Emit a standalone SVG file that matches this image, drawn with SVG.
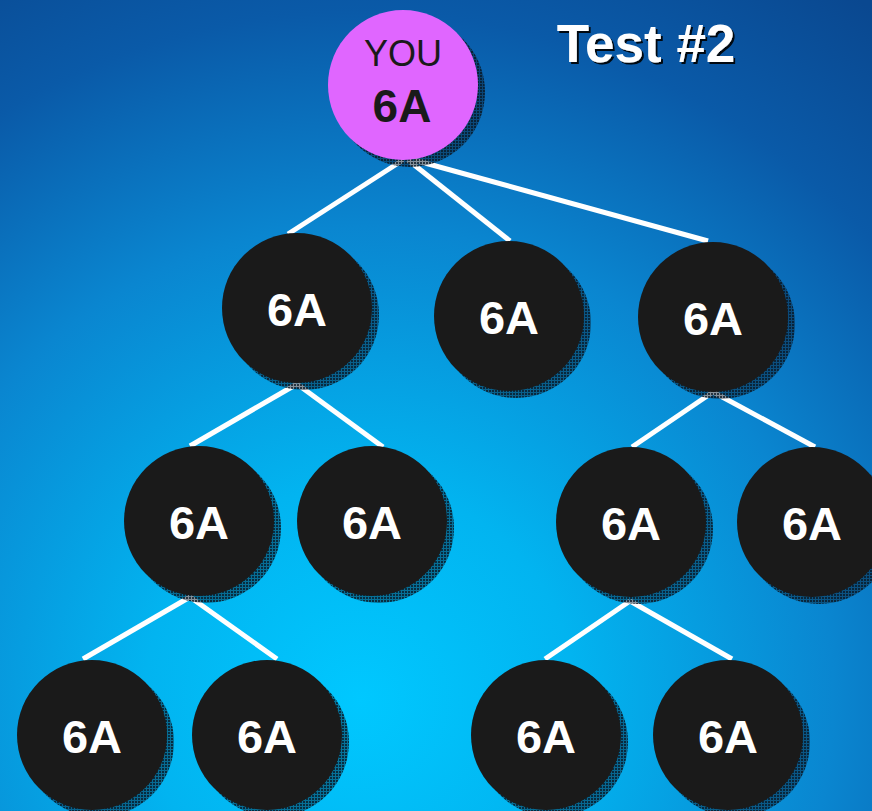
<svg xmlns="http://www.w3.org/2000/svg" width="872" height="811" viewBox="0 0 872 811">
  <defs>
    <radialGradient id="bg" gradientUnits="userSpaceOnUse" cx="360" cy="700" r="860">
      <stop offset="0" stop-color="#00c8ff"/>
      <stop offset="0.25" stop-color="#02b4f0"/>
      <stop offset="0.55" stop-color="#0a86d0"/>
      <stop offset="0.8" stop-color="#0a5aa8"/>
      <stop offset="1" stop-color="#0a4890"/>
    </radialGradient>
    <pattern id="hatch" width="3" height="3" patternUnits="userSpaceOnUse">
      <rect width="3" height="3" fill="#0b2236" opacity="0.5"/>
      <rect width="2" height="2" fill="#081622" opacity="0.75"/>
    </pattern>
    <filter id="tshadow" x="-10%" y="-20%" width="120%" height="140%">
      <feDropShadow dx="2" dy="2" stdDeviation="0.6" flood-color="#000000" flood-opacity="0.9"/>
    </filter>
    <style>
      .shadow { fill: url(#hatch); }
      .dark { fill: #1a1a1a; }
      .lbl { font-family: "Liberation Sans", Arial, sans-serif; font-weight: bold; font-size: 47px; fill: #ffffff; text-anchor: middle; }
      .conn line { stroke: #ffffff; stroke-width: 5; stroke-linecap: butt; }
    </style>
  </defs>
  <rect width="872" height="811" fill="url(#bg)"/>

  <g id="title">
    <text x="646" y="62" font-family="Liberation Sans, Arial, sans-serif" font-weight="bold" font-size="53" fill="#ffffff" text-anchor="middle" filter="url(#tshadow)">Test #2</text>
  </g>

  <g id="connectors" class="conn">
    <line x1="403" y1="160" x2="288" y2="234"/>
    <line x1="408" y1="160" x2="510" y2="241"/>
    <line x1="414" y1="160" x2="708" y2="241"/>
    <line x1="297" y1="384" x2="190" y2="446"/>
    <line x1="297" y1="384" x2="383" y2="447"/>
    <line x1="713" y1="392" x2="632" y2="447"/>
    <line x1="713" y1="392" x2="815" y2="447"/>
    <line x1="190" y1="597" x2="83" y2="659"/>
    <line x1="190" y1="597" x2="277" y2="659"/>
    <line x1="630" y1="601" x2="545" y2="659"/>
    <line x1="630" y1="601" x2="732" y2="659"/>
  </g>

  <g id="node-you">
    <circle class="shadow" cx="410" cy="92" r="75"/>
    <circle cx="403" cy="85" r="75" fill="#e066ff"/>
    <text x="403" y="66" font-family="Liberation Sans, Arial, sans-serif" font-size="36" fill="#1a1a1a" text-anchor="middle">YOU</text>
    <text x="402" y="122" font-family="Liberation Sans, Arial, sans-serif" font-weight="bold" font-size="46" fill="#1a1a1a" text-anchor="middle">6A</text>
  </g>

  <g id="node-a">
    <circle class="shadow" cx="304" cy="315" r="75"/>
    <circle class="dark" cx="297" cy="308" r="75"/>
    <text class="lbl" x="297" y="326">6A</text>
  </g>
  <g id="node-b">
    <circle class="shadow" cx="516" cy="323" r="75"/>
    <circle class="dark" cx="509" cy="316" r="75"/>
    <text class="lbl" x="509" y="334">6A</text>
  </g>
  <g id="node-c">
    <circle class="shadow" cx="720" cy="324" r="75"/>
    <circle class="dark" cx="713" cy="317" r="75"/>
    <text class="lbl" x="713" y="335">6A</text>
  </g>

  <g id="node-d">
    <circle class="shadow" cx="206" cy="528" r="75"/>
    <circle class="dark" cx="199" cy="521" r="75"/>
    <text class="lbl" x="199" y="539">6A</text>
  </g>
  <g id="node-e">
    <circle class="shadow" cx="379" cy="528" r="75"/>
    <circle class="dark" cx="372" cy="521" r="75"/>
    <text class="lbl" x="372" y="539">6A</text>
  </g>
  <g id="node-f">
    <circle class="shadow" cx="638" cy="529" r="75"/>
    <circle class="dark" cx="631" cy="522" r="75"/>
    <text class="lbl" x="631" y="540">6A</text>
  </g>
  <g id="node-g">
    <circle class="shadow" cx="819" cy="529" r="75"/>
    <circle class="dark" cx="812" cy="522" r="75"/>
    <text class="lbl" x="812" y="540">6A</text>
  </g>

  <g id="node-h">
    <circle class="shadow" cx="99" cy="742" r="75"/>
    <circle class="dark" cx="92" cy="735" r="75"/>
    <text class="lbl" x="92" y="753">6A</text>
  </g>
  <g id="node-i">
    <circle class="shadow" cx="274" cy="742" r="75"/>
    <circle class="dark" cx="267" cy="735" r="75"/>
    <text class="lbl" x="267" y="753">6A</text>
  </g>
  <g id="node-j">
    <circle class="shadow" cx="553" cy="742" r="75"/>
    <circle class="dark" cx="546" cy="735" r="75"/>
    <text class="lbl" x="546" y="753">6A</text>
  </g>
  <g id="node-k">
    <circle class="shadow" cx="735" cy="742" r="75"/>
    <circle class="dark" cx="728" cy="735" r="75"/>
    <text class="lbl" x="728" y="753">6A</text>
  </g>
</svg>
